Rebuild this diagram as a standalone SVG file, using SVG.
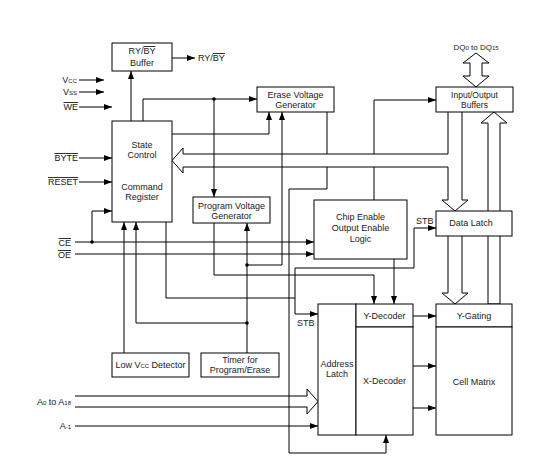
<svg xmlns="http://www.w3.org/2000/svg" width="538" height="471" viewBox="0 0 538 471">
<style>
text{font-family:"Liberation Sans",Arial,sans-serif;font-size:9px;fill:#1a1a1a}
.c{text-anchor:middle}
.r{text-anchor:end}
.box{fill:#fff;stroke:#000;stroke-width:1}
.ln{fill:none;stroke:#000;stroke-width:1}
.arr{marker-end:url(#ah)}
.hol{fill:#fff;stroke:#000;stroke-width:1}
.ov{text-decoration:overline}
.sub{font-size:6px}
.dot{fill:#000}
</style>
<defs>
<marker id="ah" markerUnits="userSpaceOnUse" markerWidth="8" markerHeight="6" refX="8" refY="3" orient="auto">
<path d="M0,0 L8,3 L0,6 z" fill="#000"/>
</marker>
</defs>
<rect width="538" height="471" fill="#fff"/>
<g id="connectors">
<!-- hollow buses -->
<path class="hol" d="M476,53 L489,63 L482,63 L482,76 L489,76 L476,87 L463,76 L470,76 L470,63 L463,63 Z"/>
<path class="hol" d="M448,112 L448,154 L183,154 L183,148 L172,160.5 L183,173 L183,167 L448,167 L448,200 L442,200 L455,211 L468,200 L462,200 L462,112"/>
<path class="hol" d="M448,236 L448,293 L442,293 L455,304 L468,293 L462,293 L462,236"/>
<path class="hol" d="M488,304 L488,123 L481,123 L494,112 L507,123 L500,123 L500,304 Z"/>
<path class="hol" d="M75,396 L307,396 L307,389 L318,401.5 L307,414 L307,407 L75,407"/>
<!-- signal lines -->
<path class="ln arr" d="M131,121 V71"/>
<path class="ln arr" d="M172,58 H195"/>
<path class="ln arr" d="M79,80 H104"/>
<path class="ln arr" d="M79,92 H104"/>
<path class="ln arr" d="M79,107 H112"/>
<path class="ln arr" d="M79,158 H112"/>
<path class="ln arr" d="M79,182 H112"/>
<path class="ln arr" d="M75,242 H314"/>
<path class="ln arr" d="M75,254 H314"/>
<path class="ln arr" d="M92,242 V211 H112"/>
<path class="ln arr" d="M143,121 V99 H257"/>
<path class="ln arr" d="M214,99 V197"/>
<path class="ln arr" d="M172,134 H269 V112"/>
<path class="ln arr" d="M124,353 V222"/>
<path class="ln arr" d="M247,353 V223"/>
<path class="ln arr" d="M247,323 H136 V222"/>
<path class="ln arr" d="M247,265 H282 V112"/>
<path class="ln" d="M166,222 V298 H295"/>
<path class="ln arr" d="M295,268 H414 V228 H436"/>
<path class="ln arr" d="M295,268 V314 H318"/>
<path class="ln arr" d="M214,223 V275 H374 V304"/>
<path class="ln arr" d="M394,259 V304"/>
<path class="ln" d="M327,112 V154"/>
<path class="ln arr" d="M327,167 V189 H289 V453 H386 V435"/>
<path class="ln arr" d="M374,154 V100 H436"/>
<path class="ln" d="M374,167 V200"/>
<path class="ln arr" d="M413,316 H436"/>
<path class="ln arr" d="M413,366 H436"/>
<path class="ln arr" d="M413,408 H436"/>
<path class="ln arr" d="M75,426 H318"/>
<circle class="dot" cx="92" cy="242" r="1.8"/>
<circle class="dot" cx="214" cy="99" r="1.8"/>
<circle class="dot" cx="247" cy="265" r="1.8"/>
<circle class="dot" cx="247" cy="323" r="1.8"/>
</g>
<g id="rybyBuffer">
<rect class="box" x="112" y="43" width="60" height="28"/>
<text class="c" x="142" y="54">RY/<tspan class="ov">BY</tspan></text>
<text class="c" x="142" y="66">Buffer</text>
</g>
<g id="stateControl">
<rect class="box" x="112" y="121" width="60" height="101"/>
<text class="c" x="142" y="148">State</text>
<text class="c" x="142" y="158">Control</text>
<text class="c" x="142" y="190">Command</text>
<text class="c" x="142" y="200">Register</text>
</g>
<g id="eraseVoltageGenerator">
<rect class="box" x="257" y="87" width="77" height="25"/>
<text class="c" x="295.5" y="98">Erase Voltage</text>
<text class="c" x="295.5" y="108">Generator</text>
</g>
<g id="ioBuffers">
<rect class="box" x="436" y="87" width="77" height="25"/>
<text class="c" x="474.5" y="98" style="font-size:8.5px">Input/Output</text>
<text class="c" x="474.5" y="108" style="font-size:8.5px">Buffers</text>
</g>
<g id="programVoltageGenerator">
<rect class="box" x="193" y="197" width="77" height="26"/>
<text class="c" x="231.5" y="209">Program Voltage</text>
<text class="c" x="231.5" y="219">Generator</text>
</g>
<g id="chipEnableLogic">
<rect class="box" x="314" y="200" width="93" height="59"/>
<text class="c" x="360.5" y="220">Chip Enable</text>
<text class="c" x="360.5" y="231">Output Enable</text>
<text class="c" x="360.5" y="242">Logic</text>
</g>
<g id="dataLatch">
<rect class="box" x="436" y="211" width="76" height="25"/>
<text class="c" x="471" y="226">Data Latch</text>
</g>
<g id="addressLatch">
<rect class="box" x="318" y="304" width="38" height="131"/>
<text class="c" x="337" y="367">Address</text>
<text class="c" x="337" y="377">Latch</text>
</g>
<g id="yDecoder">
<rect class="box" x="356" y="304" width="57" height="23"/>
<text class="c" x="384.5" y="319">Y-Decoder</text>
</g>
<g id="xDecoder">
<rect class="box" x="356" y="327" width="57" height="108"/>
<text class="c" x="384.5" y="384">X-Decoder</text>
</g>
<g id="yGating">
<rect class="box" x="436" y="304" width="76" height="23"/>
<text class="c" x="474" y="319">Y-Gating</text>
</g>
<g id="cellMatrix">
<rect class="box" x="436" y="327" width="76" height="108"/>
<text class="c" x="474" y="385">Cell Matrix</text>
</g>
<g id="lowVccDetector">
<rect class="box" x="112" y="353" width="77" height="24"/>
<text class="c" x="150.5" y="368">Low V<tspan class="sub">CC</tspan> Detector</text>
</g>
<g id="timer">
<rect class="box" x="201" y="353" width="78" height="24"/>
<text class="c" x="240" y="363">Timer for</text>
<text class="c" x="240" y="373">Program/Erase</text>
</g>
<g id="labels">
<text x="198" y="61">RY/<tspan class="ov">BY</tspan></text>
<text class="r" x="77" y="83">V<tspan class="sub">CC</tspan></text>
<text class="r" x="77" y="95">V<tspan class="sub">SS</tspan></text>
<text class="r" x="78" y="110" style="text-decoration:overline">WE</text>
<text class="r" x="78" y="161" style="text-decoration:overline">BYTE</text>
<text class="r" x="78" y="185" style="text-decoration:overline">RESET</text>
<text class="r" x="71" y="246" style="text-decoration:overline">CE</text>
<text class="r" x="71" y="258" style="text-decoration:overline">OE</text>
<text class="c" x="476" y="50" style="font-size:8px">DQ<tspan class="sub">0</tspan> to DQ<tspan class="sub">15</tspan></text>
<text x="416" y="224">STB</text>
<text x="297" y="326">STB</text>
<text class="r" x="71" y="405">A<tspan class="sub">0</tspan> to A<tspan class="sub">18</tspan></text>
<text class="r" x="71" y="429">A<tspan class="sub">-1</tspan></text>
</g>
</svg>
